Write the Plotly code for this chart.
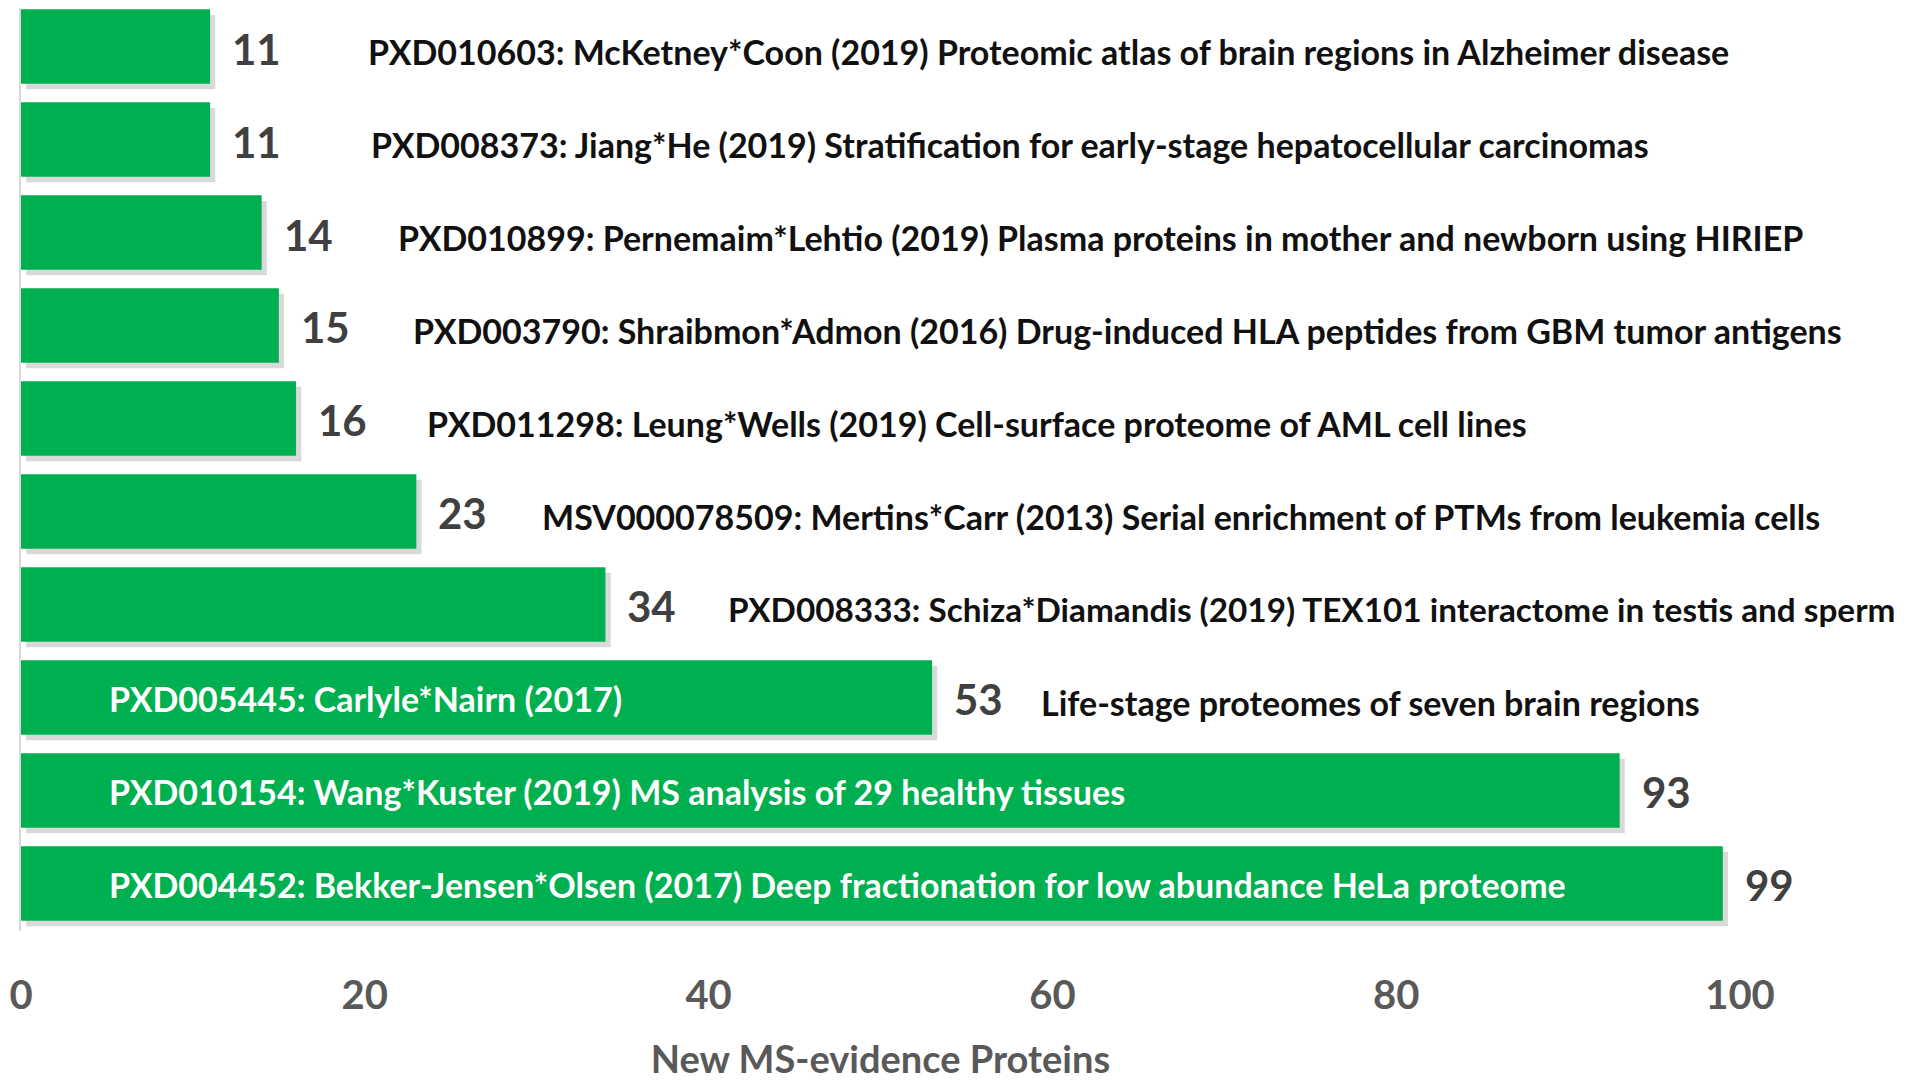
import plotly.graph_objects as go

# data, top row first
datasets = ['PXD010603', 'PXD008373', 'PXD010899', 'PXD003790', 'PXD011298',
            'MSV000078509', 'PXD008333', 'PXD005445', 'PXD010154', 'PXD004452']
new_proteins = [11, 11, 14, 15, 16, 23, 34, 53, 93, 99]

# text drawn inside the bar (white) and next to the value (dark)
inside_text = ['', '', '', '', '', '', '',
               'PXD005445: Carlyle*Nairn (2017)',
               'PXD010154: Wang*Kuster (2019) MS analysis of 29 healthy tissues',
               'PXD004452: Bekker-Jensen*Olsen (2017) Deep fractionation for low abundance HeLa proteome']
outside_text = ['PXD010603: McKetney*Coon (2019) Proteomic atlas of brain regions in Alzheimer disease',
                'PXD008373: Jiang*He (2019) Stratification for early-stage hepatocellular carcinomas',
                'PXD010899: Pernemaim*Lehtio (2019) Plasma proteins in mother and newborn using HIRIEP',
                'PXD003790: Shraibmon*Admon (2016) Drug-induced HLA peptides from GBM tumor antigens',
                'PXD011298: Leung*Wells (2019) Cell-surface proteome of AML cell lines',
                'MSV000078509: Mertins*Carr (2013) Serial enrichment of PTMs from leukemia cells',
                'PXD008333: Schiza*Diamandis (2019) TEX101 interactome in testis and sperm',
                'Life-stage proteomes of seven brain regions',
                '', '']

# Abstand Balkenende -> Beschreibung (px) und Schriftgroesse
text_gap = [156, 159, 134, 132, 129, 124, 121, 107, 0, 0]
text_size = [34, 34, 34, 34, 34, 34, 33.3, 34, 34, 34]

FONT = 'Lato'
green = '#00B050'

fig = go.Figure()

# Schatten
fig.add_trace(go.Bar(
    y=datasets, x=new_proteins, orientation='h',
    base=0.3, width=0.8, offset=-0.34,
    marker=dict(color='rgba(0,0,0,0.15)', line=dict(width=0)),
    hoverinfo='skip', showlegend=False
))

fig.add_trace(go.Bar(
    y=datasets, x=new_proteins, orientation='h',
    width=0.8, offset=-0.4,
    marker=dict(color=green, line=dict(width=0)),
    showlegend=False
))

annotations = []
for i, (ds, v) in enumerate(zip(datasets, new_proteins)):
    # Wert
    annotations.append(dict(
        x=v, y=ds, xref='x', yref='y', text=str(v), showarrow=False,
        xanchor='left', yanchor='middle', xshift=20, yshift=-2,
        font=dict(family=FONT, size=42, color='#404040', weight='bold')
    ))
    if inside_text[i]:
        annotations.append(dict(
            x=0, y=ds, xref='x', yref='y', text=inside_text[i], showarrow=False,
            xanchor='left', yanchor='middle', xshift=86, yshift=-1,
            font=dict(family=FONT, size=34, color='white', weight='bold')
        ))
    if outside_text[i]:
        annotations.append(dict(
            x=v, y=ds, xref='x', yref='y', text=outside_text[i], showarrow=False,
            xanchor='left', yanchor='middle', xshift=text_gap[i], yshift=-5,
            font=dict(family=FONT, size=text_size[i], color='#111111', weight='bold')
        ))

fig.update_layout(
    width=1920, height=1080,
    barmode='overlay',
    plot_bgcolor='white', paper_bgcolor='white',
    margin=dict(l=13, r=188, t=0, b=157),
    annotations=annotations,
    font=dict(family=FONT)
)

fig.update_xaxes(
    range=[0, 100], tickvals=[0, 20, 40, 60, 80, 100],
    showgrid=False, zeroline=False, showline=False,
    ticks='', ticklabelstandoff=37,
    tickfont=dict(family=FONT, size=40, color='#595959', weight='bold'),
    title=dict(text='New MS-evidence Proteins', standoff=29,
               font=dict(family=FONT, size=38, color='#595959', weight='bold'))
)

fig.update_yaxes(
    range=[9.511, -0.414], showticklabels=False, showgrid=False,
    showline=True, linecolor='#d9d9d9', linewidth=2, ticks=''
)

fig.write_html('out.html')
